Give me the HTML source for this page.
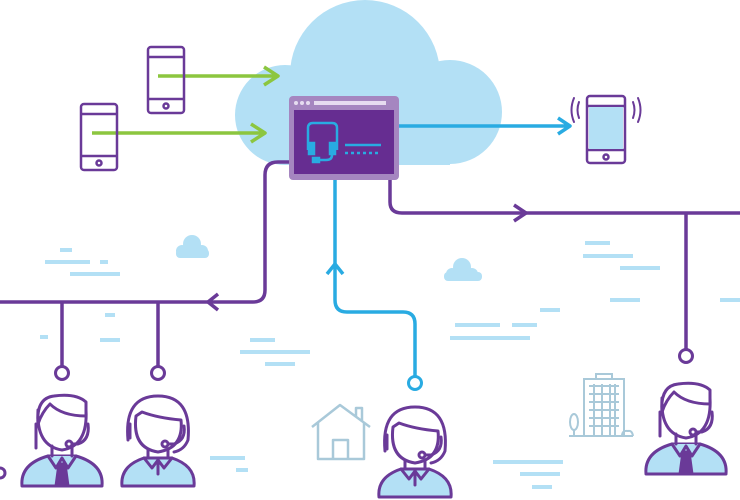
<!DOCTYPE html>
<html><head><style>html,body{margin:0;padding:0;background:#fff;width:740px;height:500px;overflow:hidden}</style></head>
<body>
<svg width="740" height="500" viewBox="0 0 740 500" xmlns="http://www.w3.org/2000/svg">
<defs>
<g id="male" fill="none" stroke="#6a3a98" stroke-width="3" stroke-linejoin="round" stroke-linecap="round">
  <path d="M-40,90 Q-42,68 -14,60 L14,60 Q42,68 40,90 Z" fill="#b3e0f5"/>
  <path d="M-14,60 L-6,72 L0,62 L6,72 L14,60" fill="#b3e0f5"/>
  <path d="M-3,68 L-6,90 L6,90 L3,68 Z" fill="#6a3a98"/>
  <path d="M-10,50 L-10,60 M10,50 L10,60"/>
  <path d="M-24,14 Q-26,50 0,54 Q26,50 24,14"/>
  <path d="M-24,28 Q-26,2 -8,0 Q14,-3 24,6 L24,20 Q0,20 -12,8 Q-20,16 -24,28"/>
  <path d="M-26,28 L-26,52 M26,28 Q28,44 16,48 L10,48"/>
  <circle cx="7" cy="48" r="3"/>
</g>
<g id="female" fill="none" stroke="#6a3a98" stroke-width="3" stroke-linejoin="round" stroke-linecap="round">
  <path d="M-36,90 Q-38,70 -14,62 L14,62 Q38,70 36,90 Z" fill="#b3e0f5"/>
  <path d="M-14,62 L-6,72 L0,64 L6,72 L14,62 M0,66 L0,78"/>
  <path d="M-10,54 L-10,62 M10,54 L10,62"/>
  <path d="M-30,44 Q-34,0 0,0 Q34,0 30,44 Q26,54 16,56"/>
  <path d="M-22,20 Q-26,52 0,56 Q26,52 23,24 Q0,22 -16,16 Z"/>
  <path d="M-28,28 L-28,42 M26,30 Q28,44 16,48 L10,48"/>
  <circle cx="7" cy="48" r="3"/>
</g>
<g id="phone" fill="none" stroke-width="2.5">
  <rect x="0" y="0" width="36" height="66" rx="3"/>
  <line x1="0" y1="10" x2="36" y2="10"/><line x1="0" y1="52" x2="36" y2="52"/>
  <circle cx="18" cy="59" r="2.5"/>
</g>
</defs>

<!-- cloud -->
<g fill="#b3e0f5">
  <circle cx="365" cy="75" r="75"/>
  <circle cx="285" cy="115" r="50"/>
  <circle cx="450" cy="112" r="52"/>
  <rect x="285" y="110" width="165" height="55"/>
</g>

<!-- dashes -->
<g stroke="#b3e0f5" stroke-width="4">
  <path d="M60,250h12M45,262h45M100,262h8M70,274h50M585,243h25M583,256h50M620,268h40M455,325h45M450,338h80M512,325h25M540,310h20M493,462h70M520,474h40M532,487h20M210,458h35M236,470h12M240,352h35M270,352h40M265,364h30M250,340h25M40,337h8M105,315h10M720,300h20M100,340h20M610,300h30"/>
</g>
<!-- small clouds -->
<g fill="#b3e0f5">
  <circle cx="192" cy="244" r="9"/><circle cx="182" cy="251" r="6"/><circle cx="202" cy="251" r="6"/><rect x="176" y="249" width="33" height="9" rx="4"/>
  <circle cx="462" cy="267" r="9"/><circle cx="452" cy="274" r="6"/><circle cx="472" cy="274" r="6"/><rect x="444" y="272" width="38" height="9" rx="4"/>
</g>

<!-- purple lines -->
<g fill="none" stroke="#6a3a98" stroke-width="3.5" stroke-linejoin="round">
  <path d="M289,162 L278,162 Q265,162 265,175 L265,290 Q265,302 253,302 L0,302"/>
  <path d="M62,302 V366 M158,302 V366"/>
  <path d="M390,179 V202 Q390,213 402,213 L740,213"/>
  <path d="M686,213 V350"/>
  <path d="M218,294 L208,302 L218,310"/>
  <path d="M514,205 L526,213 L514,221"/>
  <circle cx="62" cy="373" r="6.5" stroke-width="3"/>
  <circle cx="158" cy="373" r="6.5" stroke-width="3"/>
  <circle cx="686" cy="356" r="6.5" stroke-width="3"/>
  <circle cx="0" cy="473" r="5" stroke-width="3"/>
</g>

<!-- blue lines -->
<g fill="none" stroke="#29abe2" stroke-width="3.5" stroke-linejoin="round">
  <path d="M335,179 V300 Q335,312 347,312 L403,312 Q415,312 415,324 V376"/>
  <path d="M327,274 L335,264 L343,274"/>
  <path d="M398,126 H570 M558,118 L570,126 L558,134"/>
  <circle cx="415" cy="383" r="6.5" stroke-width="3"/>
</g>

<!-- green arrows -->
<g fill="none" stroke="#8cc63f" stroke-width="3.5" stroke-linejoin="round">
  <path d="M158,76 H278 M264,67 L278,76 L264,85"/>
  <path d="M92,133 H265 M251,124 L265,133 L251,142"/>
</g>

<!-- phones -->
<use href="#phone" x="148" y="47" stroke="#6a3a98"/>
<use href="#phone" x="81" y="104" stroke="#6a3a98"/>
<g stroke="#6a3a98" fill="none" stroke-width="2.5">
  <rect x="587" y="96" width="38" height="67" rx="3"/>
  <line x1="587" y1="106" x2="625" y2="106"/><line x1="587" y1="150" x2="625" y2="150"/>
  <circle cx="606" cy="157" r="2.5"/>
</g>
<rect x="589" y="107" width="34" height="42" fill="#b3e0f5"/>
<g stroke="#6a3a98" fill="none" stroke-width="2" stroke-linecap="round">
  <path d="M579,102 Q576,110 579,118 M574,98 Q569,110 574,122 M633,102 Q636,110 633,118 M638,98 Q643,110 638,122"/>
</g>

<!-- window -->
<rect x="289" y="96" width="110" height="84" rx="4" fill="#a586c0"/>
<rect x="294" y="110" width="100" height="64" fill="#662d91"/>
<g fill="#e6dcf0"><circle cx="296" cy="103" r="2"/><circle cx="302" cy="103" r="2"/><circle cx="308" cy="103" r="2"/><rect x="314" y="101" width="72" height="4"/></g>
<g fill="none" stroke="#29abe2" stroke-width="2.5">
  <path d="M308,150 V128 Q308,123 313,123 H332 Q337,123 337,128 V150"/>
  <rect x="309" y="143" width="5" height="11" fill="#29abe2"/>
  <rect x="330" y="143" width="5" height="11" fill="#29abe2"/>
  <path d="M332,155 Q332,160 326,160 L318,160"/>
  <rect x="313" y="158" width="6" height="4" fill="#29abe2"/>
  <path d="M345,145 H381"/>
  <path d="M345,153 H381" stroke-dasharray="3,3"/>
</g>

<!-- house -->
<g fill="none" stroke="#a9c9d9" stroke-width="2.5" stroke-linejoin="round">
  <path d="M312,427 L340,405 L370,427 M318,423 V459 H364 V423 M333,459 V440 H348 V459 M356,417 V408 H362 V422"/>
</g>
<!-- building -->
<g fill="none" stroke="#a9c9d9" stroke-width="2">
  <rect x="584" y="379" width="40" height="57"/>
  <path d="M589,386 H619 M589,394 H619 M589,402 H619 M589,410 H619 M589,418 H619 M589,426 H619 M594,384 V436 M602,384 V436 M610,384 V436 M615,384 V436 M596,379 V374 H612 V379"/>
  <ellipse cx="574" cy="422" rx="4" ry="8"/><path d="M574,430 V436 M569,436 H633"/>
  <path d="M622,436 Q622,430 628,431 Q632,430 633,436"/>
</g>

<!-- people -->
<use href="#male" x="62" y="396"/>
<use href="#female" x="158" y="396"/>
<use href="#female" x="415" y="407"/>
<use href="#male" x="686" y="384"/>
</svg>
</body></html>
